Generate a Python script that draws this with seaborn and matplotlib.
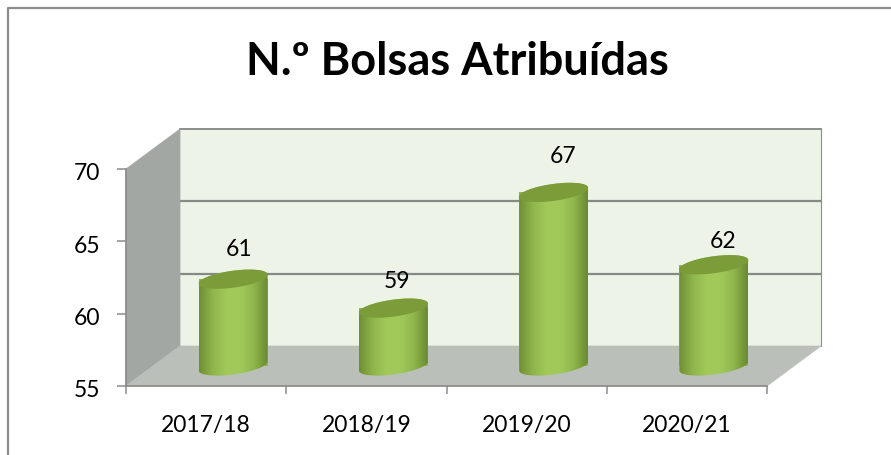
import numpy as np
import pandas as pd
import matplotlib
matplotlib.use('Agg')
import matplotlib.pyplot as plt
from matplotlib.lines import Line2D
from matplotlib.patches import Polygon
from matplotlib.path import Path
from matplotlib.transforms import IdentityTransform, ScaledTranslation
import seaborn as sns

years = ['2017/18', '2018/19', '2019/20', '2020/21']
bolsas = [61, 59, 67, 62]
y_ticks = [55, 60, 65, 70]
# nudges of the value labels, in points
label_dx = [4.3, 2.9, 6.5, 6.5]
label_dy = [17.3, 15, 21.6, 13]

W, H = 891, 456
# front plane of the fake 3D box, in pixels
left, right, top, bottom = 126, 767, 170, 387
depth_x, depth_y = 54, 40

sns.set_theme(style='white')
plt.rcParams['font.family'] = ['Lato', 'DejaVu Sans']

fig = plt.figure(figsize=(W / 100, H / 100), dpi=100, facecolor='white')
none = IdentityTransform()


def make_axes(dx, dy, z):
    a = fig.add_axes([(left + dx) / W, (H - bottom + dy) / H,
                      (right - left) / W, (bottom - top) / H], zorder=z)
    a.set_xlim(-0.5, 3.5)
    a.set_ylim(y_ticks[0], y_ticks[-1])
    return a


# outer frame, only left and top show in the picture
fig.add_artist(Line2D([8, 8, W], [0, H - 9, H - 9], transform=none,
                      color='#8c8c8c', lw=1.6))

# back wall with its grid
back = make_axes(depth_x, depth_y, 1)
back.set_facecolor('#eef3e8')
back.set_xticks([])
back.set_yticks(y_ticks[1:-1])
back.set_yticklabels([])
back.grid(axis='y', color='#858a85', lw=1.6)
back.tick_params(left=False)
sns.despine(ax=back, left=True, bottom=True, right=False, top=False)
for s in ['top', 'right']:
    back.spines[s].set_color('#8a8f8a')
back.spines['top'].set_linewidth(1.4)
back.spines['right'].set_linewidth(0.8)

# left wall and floor
y0, y1 = H - bottom, H - top
fig.add_artist(Polygon([(left, y0), (left + depth_x, y0 + depth_y),
                        (left + depth_x, y1 + depth_y), (left, y1)],
                       transform=none, facecolor='#a3a7a3', edgecolor='#a3a7a3',
                       lw=0.5, zorder=1.5))
fig.add_artist(Polygon([(left, y0), (right, y0), (right + depth_x, y0 + depth_y),
                        (left + depth_x, y0 + depth_y)],
                       transform=none, facecolor='#bbbfba', edgecolor='#bbbfba',
                       lw=0.5, zorder=1.5))

# front axes: ticks and labels only
ax = make_axes(0, 0, 2)
ax.patch.set_alpha(0)
ax.set_xticks(np.arange(-0.5, 4))
ax.set_xticklabels([])
ax.set_xticks(range(4), years, minor=True)
ax.set_yticks(y_ticks)
ax.tick_params(axis='y', length=6.5, width=1.1, color='#8c8c8c', left=True,
               labelsize=16.5, pad=12, labelcolor='black')
ax.tick_params(axis='x', which='major', length=5.5, width=1.1, color='#8c8c8c', bottom=True)
ax.tick_params(axis='x', which='minor', length=0, labelsize=16.5, pad=20, labelcolor='black')
sns.despine(ax=ax, top=True, right=True)
ax.spines['left'].set_color('#8c8c8c')
ax.spines['bottom'].set_color('#8c8c8c')
for lab in ax.get_yticklabels():
    lab.set_transform(lab.get_transform() + ScaledTranslation(0, -2 / 100, fig.dpi_scale_trans))

# bars sit half way into the box
mid = make_axes(depth_x / 2, depth_y / 2, 3)
mid.patch.set_alpha(0)
df = pd.DataFrame({'ano': years, 'bolsas': bolsas})
sns.barplot(data=df, x='ano', y='bolsas', color='#8fb54a', saturation=1, width=0.43,
            linewidth=0, ax=mid, zorder=1)
mid.set_xlim(-0.5, 3.5)
mid.set_ylim(y_ticks[0], y_ticks[-1])
mid.axis('off')

fig.canvas.draw()
gradient = matplotlib.colors.LinearSegmentedColormap.from_list(
    'cyl', ['#6f8f35', '#8fb64c', '#a1c95a', '#a1c95a', '#8fb64c', '#6a8a30'])
t = np.linspace(0, 2 * np.pi, 240)
for bar, val, dx, dy in zip(mid.patches, bolsas, label_dx, label_dy):
    xa = bar.get_x()
    xb = xa + bar.get_width()
    (px0, py0), (px1, py1) = mid.transData.transform([(xa, y_ticks[0]), (xb, val)])
    cx = (px0 + px1) / 2
    a = (px1 - px0) / 2
    ex = cx + a * np.cos(t)
    ey = 8.5 * np.sin(t) + 4.5 * np.cos(t)
    low = np.column_stack([ex, py0 + ey])
    high = np.column_stack([ex, py1 + ey])
    # outline of the cylinder: lower half of the bottom ellipse, upper half of the top one
    under = low[(t > np.pi) & (t < 2 * np.pi)]
    over = high[(t > 0) & (t < np.pi)]
    hull = np.vstack([under, over, under[:1]])
    im = mid.imshow(np.linspace(0, 1, 100)[None, :], cmap=gradient, aspect='auto',
                    extent=[xa, xb, y_ticks[0] - 1, val + 1], zorder=2)
    im.set_clip_path(Path(hull, closed=True), none)
    im.set_clip_box(fig.bbox)
    fig.add_artist(Polygon(high, transform=none, facecolor='#7c9c3a', edgecolor='none',
                           zorder=4))
    mid.annotate(str(val), (bar.get_x() + bar.get_width() / 2, val), xytext=(dx, dy),
                 textcoords='offset points', ha='center', va='baseline',
                 fontsize=16.5, color='black', annotation_clip=False)
mid.set_xlim(-0.5, 3.5)
mid.set_ylim(y_ticks[0], y_ticks[-1])

fig.text(457 / W, 1 - 62 / H, 'N.º Bolsas Atribuídas', ha='center', va='center',
         fontsize=32.5, fontweight='bold', color='black')

fig.savefig('out.png', dpi=100)
